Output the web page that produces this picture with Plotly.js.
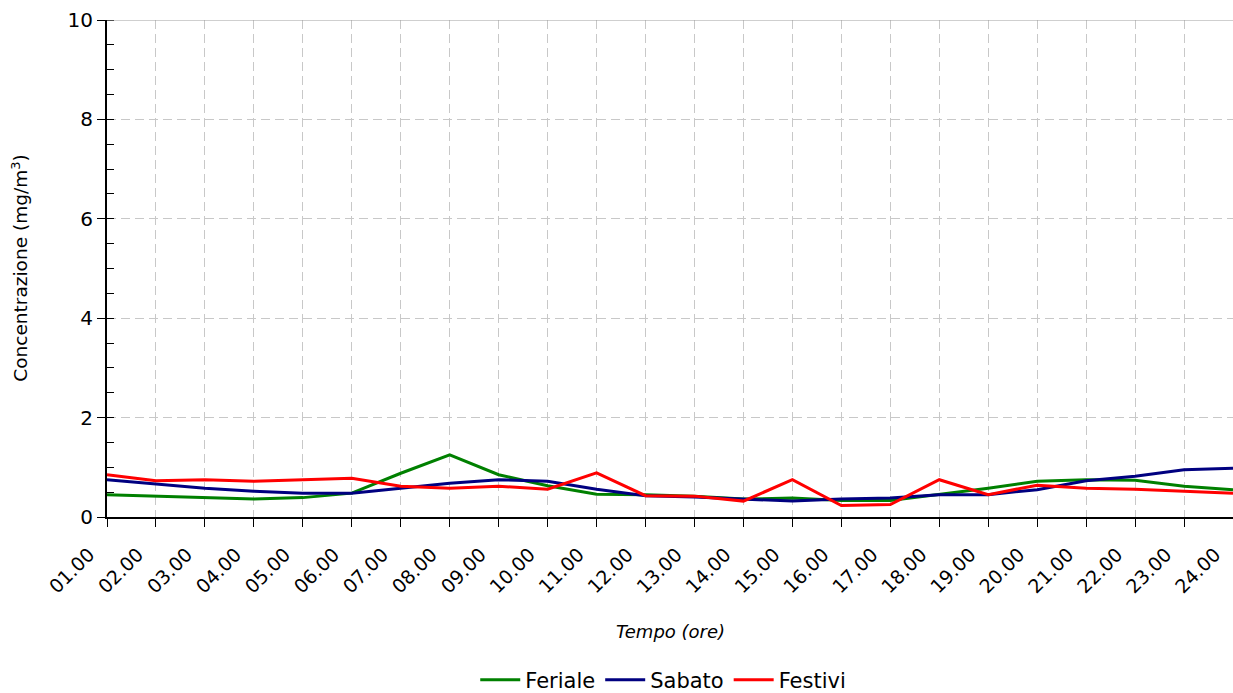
<!DOCTYPE html>
<html>
<head>
<meta charset="utf-8">
<script src="https://cdn.plot.ly/plotly-3.0.1.min.js"></script>
<style>html,body{margin:0;padding:0;background:#fff;}#chart{width:1233px;height:693px;}</style>
</head>
<body>
<div id="chart"></div>
<script>
const hours = ["01.00","02.00","03.00","04.00","05.00","06.00","07.00","08.00","09.00","10.00","11.00","12.00",
               "13.00","14.00","15.00","16.00","17.00","18.00","19.00","20.00","21.00","22.00","23.00","24.00"];
const feriale = [0.45,0.42,0.38,0.36,0.39,0.48,0.88,1.25,0.85,0.63,0.46,0.45,0.42,0.36,0.38,0.33,0.33,0.45,0.58,0.72,0.75,0.74,0.62,0.55];
const sabato  = [0.75,0.67,0.58,0.52,0.48,0.48,0.58,0.68,0.75,0.72,0.56,0.43,0.40,0.36,0.32,0.36,0.38,0.45,0.45,0.55,0.73,0.82,0.95,0.98];
const festivi = [0.85,0.73,0.75,0.72,0.75,0.78,0.62,0.58,0.62,0.56,0.89,0.43,0.42,0.32,0.75,0.23,0.25,0.75,0.45,0.64,0.58,0.56,0.52,0.48];
const yTicks = [0,2,4,6,8,10];

const font = "DejaVu Sans, sans-serif";
const traces = [
  {x: hours, y: feriale, name: "Feriale", type: "scatter", mode: "lines", line: {color: "#008000", width: 3}},
  {x: hours, y: sabato,  name: "Sabato",  type: "scatter", mode: "lines", line: {color: "#000080", width: 3}},
  {x: hours, y: festivi, name: "Festivi", type: "scatter", mode: "lines", line: {color: "#ff0000", width: 3}}
];
const layout = {
  width: 1233, height: 693,
  margin: {l: 107, r: 0, t: 20, b: 176, autoexpand: false},
  paper_bgcolor: "#fff", plot_bgcolor: "#fff",
  showlegend: true,
  legend: {orientation: "h", x: 0.494, xanchor: "center", y: -0.328, yanchor: "middle",
           font: {family: font, size: 21, color: "#000"}, itemwidth: 40, tracegroupgap: 0},
  xaxis: {
    type: "category", range: [0, 23], tickvals: hours, ticktext: hours,
    tickangle: -45, tickfont: {family: font, size: 19, color: "#000"},
    ticklabelshift: -18, ticklabelstandoff: 9,
    showgrid: true, gridcolor: "#c8c8c8", griddash: "9px,5px", gridwidth: 1,
    showline: true, linecolor: "#000", linewidth: 2,
    ticks: "outside", ticklen: 8, tickcolor: "#000", tickwidth: 1,
    zeroline: false, automargin: false
  },
  yaxis: {
    range: [0, 10], tickvals: yTicks, ticktext: yTicks.map(String),
    tickfont: {family: font, size: 20, color: "#000"},
    showgrid: true, gridcolor: "#c8c8c8", griddash: "9px,5px", gridwidth: 1,
    showline: true, linecolor: "#000", linewidth: 2,
    ticks: "outside", ticklen: 8, tickcolor: "#000", tickwidth: 1,
    minor: {dtick: 0.5, ticks: "inside", ticklen: 7, tickcolor: "#000", showgrid: false},
    zeroline: false, automargin: false
  },
  shapes: [
    {type: "line", xref: "paper", yref: "y", x0: 0, x1: 1, y0: 10, y1: 10, line: {color: "#a0a0a0", width: 1}}
  ],
  annotations: [
    {text: "<i>Tempo (ore)</i>", xref: "paper", yref: "paper", x: 0.5, y: -0.23, xanchor: "center", yanchor: "middle",
     showarrow: false, font: {family: font, size: 18, color: "#000"}},
    {text: "Concentrazione (mg/m<sup>3</sup>)", xref: "paper", yref: "paper", x: -0.078, y: 0.5, textangle: -90,
     xanchor: "center", yanchor: "middle", showarrow: false, font: {family: font, size: 18.5, color: "#000"}}
  ]
};
Plotly.newPlot("chart", traces, layout, {displayModeBar: false, staticPlot: true});
</script>
</body>
</html>
